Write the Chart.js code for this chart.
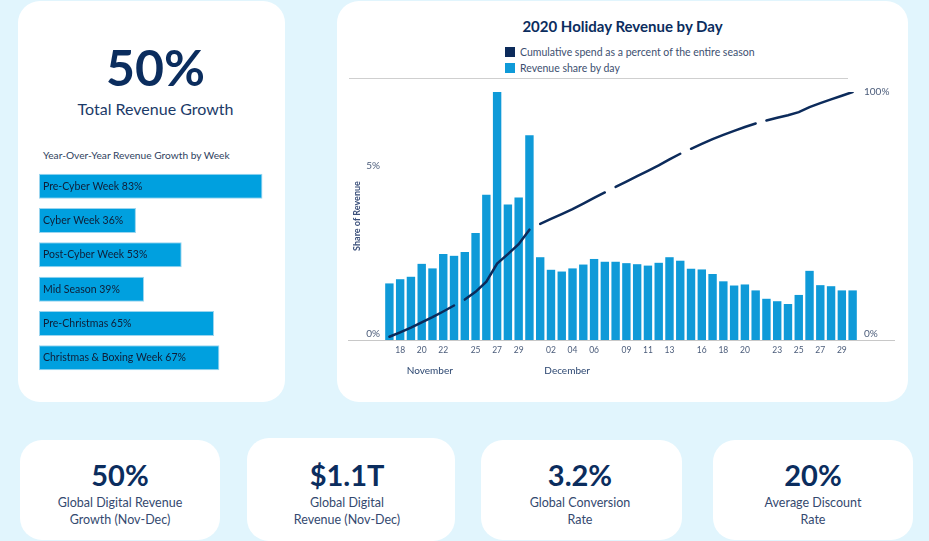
<!DOCTYPE html>
<html>
<head>
<meta charset="utf-8">
<title>2020 Holiday Revenue</title>
<script src="https://cdn.jsdelivr.net/npm/chart.js@4.4.1/dist/chart.umd.min.js"></script>
<style>
  body { margin: 0; width: 929px; height: 541px; overflow: hidden; position: relative;
         background: #e1f5fd; font-family: Lato, 'Noto Sans', sans-serif; color: #0b2d5e; }
  .card { position: absolute; background: #fff; border-radius: 22px; }
  .abs { position: absolute; white-space: nowrap; line-height: 1; }
  .big { font-weight: 700; text-align: center; }
  .caption { text-align: center; font-size: 12.5px; line-height: 16.5px; color: #34496f; }
  .legend { position: absolute; left: 505px; font-size: 10.5px; color: #3d4f70; line-height: 1; }
  .legend span { display: inline-block; width: 10px; height: 10px; vertical-align: -1px; margin-right: 5px; }
</style>
</head>
<body>
  <div class="card" style="left:18px; top:1px; width:267px; height:401px;"></div>
  <div class="card" style="left:337px; top:1px; width:571px; height:401px;"></div>

  <div class="abs big" style="left:18px; width:275px; top:42px; font-size:50px;">50%</div>
  <div class="abs" style="left:18px; width:275px; top:101px; font-size:16px; text-align:center; color:#1b3a68;">Total Revenue Growth</div>
  <div class="abs" style="left:43px; top:150px; font-size:10.2px; color:#2f3f60;">Year-Over-Year Revenue Growth by Week</div>
  <div class="abs" style="left:39px; top:169px; width:245px; height:206px;"><canvas id="weekChart"></canvas></div>

  <div class="abs" style="left:337px; top:19px; width:571px; text-align:center; font-size:15px; font-weight:700;">2020 Holiday Revenue by Day</div>
  <div class="legend" style="top:47px;"><span style="background:#0c2b5b;"></span>Cumulative spend as a percent of the entire season</div>
  <div class="legend" style="top:63px;"><span style="background:#0f9ad8;"></span>Revenue share by day</div>
  <div class="abs" style="left:349px; top:78px; width:499px; height:1px; background:#cfcfcf;"></div>
  <div class="abs" style="left:337px; top:80px; width:571px; height:315px;"><canvas id="dayChart"></canvas></div>

  <div class="card" style="left:20px; top:440px; width:200px; height:100px;"></div>
  <div class="card" style="left:247px; top:438px; width:208px; height:103px;"></div>
  <div class="card" style="left:481px; top:440px; width:201px; height:100px;"></div>
  <div class="card" style="left:713px; top:440px; width:200px; height:100px;"></div>

  <div class="abs big" style="left:20px; width:200px; top:460px; font-size:29px;">50%</div>
  <div class="abs caption" style="left:20px; width:200px; top:495px;">Global Digital Revenue<br>Growth (Nov-Dec)</div>
  <div class="abs big" style="left:247px; width:200px; top:460px; font-size:29px;">$1.1T</div>
  <div class="abs caption" style="left:247px; width:200px; top:495px;">Global Digital<br>Revenue (Nov-Dec)</div>
  <div class="abs big" style="left:481px; width:198px; top:460px; font-size:29px;">3.2%</div>
  <div class="abs caption" style="left:481px; width:198px; top:495px;">Global Conversion<br>Rate</div>
  <div class="abs big" style="left:713px; width:200px; top:460px; font-size:29px;">20%</div>
  <div class="abs caption" style="left:713px; width:200px; top:495px;">Average Discount<br>Rate</div>

<script>
const weeks = ['Pre-Cyber Week', 'Cyber Week', 'Post-Cyber Week', 'Mid Season', 'Pre-Christmas', 'Christmas & Boxing Week'];
const weekGrowth = [83, 36, 53, 39, 65, 67];

const days = [
  'Nov 17', 'Nov 18', 'Nov 19', 'Nov 20', 'Nov 21', 'Nov 22', 'Nov 23',
  'Nov 24', 'Nov 25', 'Nov 26', 'Nov 27', 'Nov 28', 'Nov 29', 'Nov 30',
  'Dec 01', 'Dec 02', 'Dec 03', 'Dec 04', 'Dec 05', 'Dec 06', 'Dec 07',
  'Dec 08', 'Dec 09', 'Dec 10', 'Dec 11', 'Dec 12', 'Dec 13', 'Dec 14',
  'Dec 15', 'Dec 16', 'Dec 17', 'Dec 18', 'Dec 19', 'Dec 20', 'Dec 21',
  'Dec 22', 'Dec 23', 'Dec 24', 'Dec 25', 'Dec 26', 'Dec 27', 'Dec 28', 'Dec 29', 'Dec 30',
];
const revenueShare = [
  1.62, 1.74, 1.81, 2.18, 2.05, 2.46, 2.41,
  2.52, 3.06, 4.16, 7.10, 3.88, 4.08, 5.86,
  2.37, 2.01, 1.96, 2.05, 2.16, 2.32, 2.24,
  2.24, 2.20, 2.17, 2.13, 2.21, 2.37, 2.27,
  2.04, 2.02, 1.89, 1.68, 1.56, 1.59, 1.42,
  1.18, 1.11, 1.03, 1.29, 1.98, 1.57, 1.54, 1.42, 1.42,
];
const cumulativeSpend = [
  1.3, 3.1, 5.0, 7.1, 9.2, 11.5, 13.9,
  16.3, 19.4, 23.5, 30.8, 34.6, 38.6, 44.5,
  46.8, 48.8, 50.8, 52.8, 55.0, 57.3, 59.5,
  61.7, 63.9, 66.1, 68.2, 70.4, 72.8, 75.1,
  77.1, 79.1, 81.0, 82.7, 84.3, 85.9, 87.3,
  88.5, 89.6, 90.6, 91.9, 93.9, 95.5, 97.0, 98.5, 100,
];
// the cumulative line is broken at the start of each week
const weekStarts = ['Nov 24', 'Dec 01', 'Dec 08', 'Dec 15', 'Dec 22'];
const shownDays = [
  'Nov 18', 'Nov 20', 'Nov 22', 'Nov 25', 'Nov 27', 'Nov 29',
  'Dec 02', 'Dec 04', 'Dec 06', 'Dec 09', 'Dec 11', 'Dec 13',
  'Dec 16', 'Dec 18', 'Dec 20', 'Dec 23', 'Dec 25', 'Dec 27', 'Dec 29',
];
const months = ['November', 'December'];
const leftTicks = [0, 5];
const rightTicks = [0, 100];

Chart.defaults.font.family = "Lato, 'Noto Sans', sans-serif";
Chart.defaults.animation = false;

const barBlue = '#0f9ad8';
const lineNavy = '#0c2b5b';
const tickColor = '#4b5c7a';

// bottom label sits just above the baseline, like the original
const pctLabel = v => v === 0 ? ['0%', ''] : v + '%';

const weekLabels = {
  id: 'weekLabels',
  afterDatasetsDraw(chart) {
    const { ctx } = chart;
    const meta = chart.getDatasetMeta(0);
    ctx.save();
    ctx.fillStyle = '#0f1d36';
    ctx.font = "10.5px Lato, 'Noto Sans', sans-serif";
    ctx.textBaseline = 'middle';
    meta.data.forEach((bar, i) => {
      ctx.fillText(`${weeks[i]} ${weekGrowth[i]}%`, bar.base + 4, bar.y);
    });
    ctx.restore();
  },
};

const dayDecor = {
  id: 'dayDecor',
  beforeDatasetsDraw(chart) {
    const { ctx, scales } = chart;
    const y0 = Math.round(scales.y.getPixelForValue(0)) + 0.5;
    ctx.save();
    ctx.strokeStyle = '#c8c8c8';
    ctx.lineWidth = 1;
    ctx.beginPath();
    ctx.moveTo(scales.y.left + 11, y0);
    ctx.lineTo(scales.y1.right - 13, y0);
    ctx.stroke();
    ctx.restore();
  },
  afterDraw(chart) {
    const { ctx, scales } = chart;
    const anchors = [3.75, 16.5];
    ctx.save();
    ctx.fillStyle = '#2b4670';
    ctx.font = "10px Lato, 'Noto Sans', sans-serif";
    ctx.textAlign = 'center';
    ctx.textBaseline = 'middle';
    months.forEach((m, i) => {
      ctx.fillText(m, scales.x.getPixelForValue(anchors[i]), scales.x.top + 31);
    });
    ctx.restore();
  },
};

function init() {
  new Chart(document.getElementById('weekChart').getContext('2d'), {
    type: 'bar',
    data: {
      labels: weeks,
      datasets: [{
        data: weekGrowth,
        backgroundColor: '#00a0df',
        borderColor: '#9ad5ef',
        borderWidth: 1,
        borderSkipped: false,
        barPercentage: 0.73,
        categoryPercentage: 1,
      }],
    },
    options: {
      indexAxis: 'y',
      responsive: true,
      maintainAspectRatio: false,
      layout: { padding: 0 },
      plugins: { legend: { display: false }, tooltip: { enabled: false } },
      scales: {
        x: { display: false, min: 0, max: 91 },
        y: { display: false },
      },
    },
    plugins: [weekLabels],
  });

  new Chart(document.getElementById('dayChart').getContext('2d'), {
    type: 'bar',
    data: {
      labels: days,
      datasets: [
        {
          type: 'line',
          label: 'Cumulative spend as a percent of the entire season',
          data: cumulativeSpend,
          yAxisID: 'y1',
          borderColor: lineNavy,
          borderWidth: 2.5,
          borderCapStyle: 'round',
          pointRadius: 0,
          tension: 0,
          order: 0,
          segment: {
            borderColor: ctx => weekStarts.includes(days[ctx.p1DataIndex]) ? 'rgba(0,0,0,0)' : lineNavy,
          },
        },
        {
          label: 'Revenue share by day',
          data: revenueShare,
          yAxisID: 'y',
          backgroundColor: barBlue,
          barPercentage: 0.78,
          categoryPercentage: 1,
          order: 1,
        },
      ],
    },
    options: {
      responsive: true,
      maintainAspectRatio: false,
      layout: { padding: { top: 12, left: 0, right: 0, bottom: 0 } },
      plugins: { legend: { display: false }, tooltip: { enabled: false } },
      scales: {
        x: {
          grid: { display: false, drawTicks: false },
          border: { display: false },
          ticks: {
            autoSkip: false,
            maxRotation: 0,
            padding: 5,
            color: tickColor,
            font: { size: 8.5 },
            callback: (v, i) => shownDays.includes(days[i]) ? days[i].slice(4) : '',
          },
          afterFit: scale => { scale.height = 55; },
        },
        y: {
          position: 'left',
          min: 0,
          max: 7.1,
          grid: { display: false, drawTicks: false },
          border: { display: false },
          ticks: { padding: 4, color: tickColor, font: { size: 10 }, callback: pctLabel },
          afterBuildTicks: scale => { scale.ticks = leftTicks.map(value => ({ value })); },
          afterFit: scale => { scale.width = 47; },
          title: {
            display: true,
            text: 'Share of Revenue',
            color: '#3a4f7a',
            font: { size: 9, weight: 'bold' },
            padding: { top: 15, bottom: 0 },
          },
        },
        y1: {
          position: 'right',
          min: 0,
          max: 100,
          grid: { display: false, drawTicks: false },
          border: { display: false },
          ticks: { padding: 6, color: tickColor, font: { size: 10 }, callback: pctLabel },
          afterBuildTicks: scale => { scale.ticks = rightTicks.map(value => ({ value })); },
          afterFit: scale => { scale.width = 50; },
        },
      },
    },
    plugins: [dayDecor],
  });
}

init();
</script>
</body>
</html>
